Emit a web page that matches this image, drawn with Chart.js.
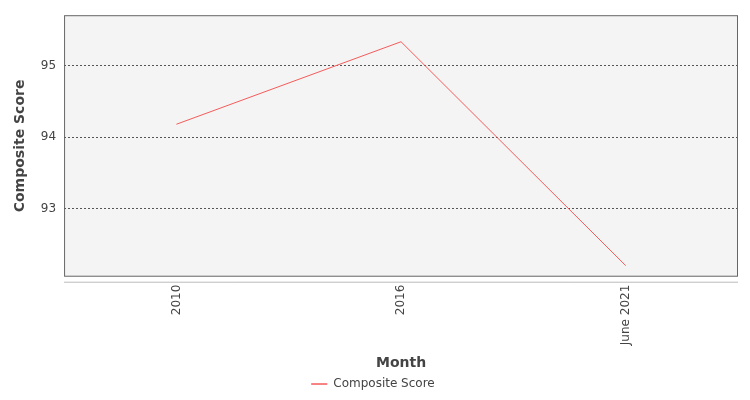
<!DOCTYPE html>
<html>
<head>
<script src="https://cdn.jsdelivr.net/npm/chart.js@4"></script>
<style>body{margin:0;background:#fff}#wrap{width:750px;height:400px}</style>
</head>
<body>
<div id="wrap"><canvas id="c"></canvas></div>
<script>
const months = ["2010", "2016", "June 2021"];
const scores = [94.18, 95.33, 92.21];
const yTicks = [93, 94, 95];

// gray plot background + frame
const plotBox = {
    id: "plotBox",
    beforeDraw(chart) {
        const a = chart.chartArea, ctx = chart.ctx;
        ctx.save();
        ctx.fillStyle = "#f4f4f4";
        ctx.fillRect(a.left, a.top, a.right - a.left, a.bottom - a.top);
        ctx.restore();
    },
    afterDatasetsDraw(chart) {
        const a = chart.chartArea, ctx = chart.ctx;
        ctx.save();
        ctx.strokeStyle = "#666";
        ctx.lineWidth = 1;
        ctx.strokeRect(a.left + 0.5, a.top + 0.5, a.right - a.left - 1, a.bottom - a.top - 1);
        ctx.beginPath();
        ctx.strokeStyle = "#bbb";
        ctx.moveTo(a.left, a.bottom + 5.5);
        ctx.lineTo(a.right, a.bottom + 5.5);
        ctx.stroke();
        ctx.restore();
    }
};

Chart.defaults.font.family = "DejaVu Sans";
Chart.defaults.color = "#444";

new Chart(document.getElementById("c"), {
    type: "line",
    data: {
        labels: months,
        datasets: [{
            label: "Composite Score",
            data: scores,
            borderColor: "#f45b5b",
            backgroundColor: "#f45b5b",
            borderWidth: 1,
            pointRadius: 0,
            tension: 0
        }]
    },
    options: {
        responsive: true,
        maintainAspectRatio: false,
        animation: false,
        layout: { padding: { top: 1, right: 12, left: 8, bottom: 0 } },
        plugins: {
            legend: {
                position: "bottom",
                labels: {
                    font: { size: 12 },
                    boxWidth: 16,
                    boxHeight: 0,
                    padding: 6,
                    generateLabels(chart) {
                        return [{ text: "Composite Score", strokeStyle: "#f45b5b", fillStyle: "#f45b5b", lineWidth: 1, datasetIndex: 0, fontColor: "#444" }];
                    }
                }
            },
            tooltip: { enabled: false }
        },
        scales: {
            x: {
                offset: true,
                grid: { display: false, drawTicks: true, tickLength: 6 },
                border: { display: false },
                ticks: { maxRotation: 90, minRotation: 90, font: { size: 12 }, padding: 2 },
                title: { display: true, text: "Month", font: { size: 14, weight: "bold" }, padding: { top: 8, bottom: 0 } }
            },
            y: {
                min: 92.055,
                max: 95.7,
                afterBuildTicks(axis) { axis.ticks = yTicks.map(v => ({ value: v })); },
                grid: { color: "#555", drawTicks: false },
                border: { display: false, dash: [2, 2] },
                ticks: { font: { size: 12 }, padding: 8 },
                title: { display: true, text: "Composite Score", font: { size: 14, weight: "bold" } }
            }
        }
    },
    plugins: [plotBox]
});
</script>
</body>
</html>
